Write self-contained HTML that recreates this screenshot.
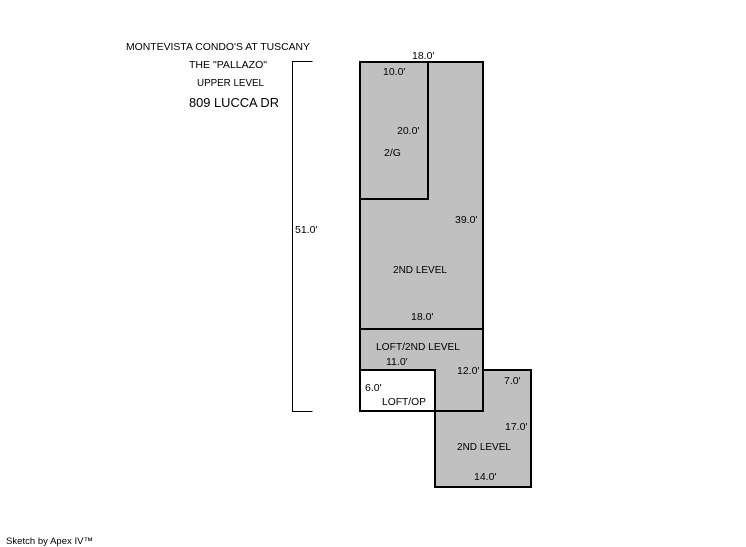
<!DOCTYPE html>
<html>
<head>
<meta charset="utf-8">
<style>
html,body{margin:0;padding:0;background:#fff;}
svg{display:block;}
text{font-family:"Liberation Sans",sans-serif;font-size:10.5px;fill:#000;}
</style>
</head>
<body>
<svg width="746" height="547" viewBox="0 0 746 547" xmlns="http://www.w3.org/2000/svg">
<rect width="746" height="547" fill="#fff"/>
<!-- fills -->
<rect x="360" y="62" width="123" height="349" fill="#c0c0c0"/>
<rect x="435" y="370" width="96" height="117" fill="#c0c0c0"/>
<rect x="360" y="370" width="75" height="41" fill="#fff"/>
<!-- walls -->
<g fill="none" stroke="#000" stroke-width="2">
<rect x="360" y="62" width="123" height="349"/>
<path d="M428 62V199H360"/>
<path d="M360 329H483"/>
<path d="M360 370H435V411"/>
<path d="M483 370H531V487H435V411"/>
</g>
<!-- dimension line -->
<path d="M312.500 61.500H292.500V411.500H312.500" fill="none" stroke="#000" stroke-width="1"/>
<!-- title -->
<text x="126" y="50" textLength="184" lengthAdjust="spacingAndGlyphs">MONTEVISTA CONDO'S AT TUSCANY</text>
<text x="189" y="68" textLength="78" lengthAdjust="spacingAndGlyphs">THE "PALLAZO"</text>
<text x="197" y="86" textLength="67" lengthAdjust="spacingAndGlyphs">UPPER LEVEL</text>
<text x="189" y="107" style="font-size:13px" textLength="90" lengthAdjust="spacingAndGlyphs">809 LUCCA DR</text>
<!-- labels -->
<text x="412" y="59">18.0'</text>
<text x="383" y="75">10.0'</text>
<text x="397" y="134">20.0'</text>
<text x="384" y="156">2/G</text>
<text x="455" y="223">39.0'</text>
<text x="295" y="233">51.0'</text>
<text x="393" y="273" textLength="54" lengthAdjust="spacingAndGlyphs">2ND LEVEL</text>
<text x="411" y="320">18.0'</text>
<text x="376" y="350" textLength="84" lengthAdjust="spacingAndGlyphs">LOFT/2ND LEVEL</text>
<text x="386" y="365">11.0'</text>
<text x="457" y="374">12.0'</text>
<text x="504" y="384">7.0'</text>
<text x="365" y="391">6.0'</text>
<text x="382" y="405" textLength="44" lengthAdjust="spacingAndGlyphs">LOFT/OP</text>
<text x="505" y="430">17.0'</text>
<text x="457" y="450" textLength="54" lengthAdjust="spacingAndGlyphs">2ND LEVEL</text>
<text x="474" y="480">14.0'</text>
<text x="6" y="544" style="font-size:9.5px" textLength="87" lengthAdjust="spacing">Sketch by Apex IV™</text>
</svg>
</body>
</html>
